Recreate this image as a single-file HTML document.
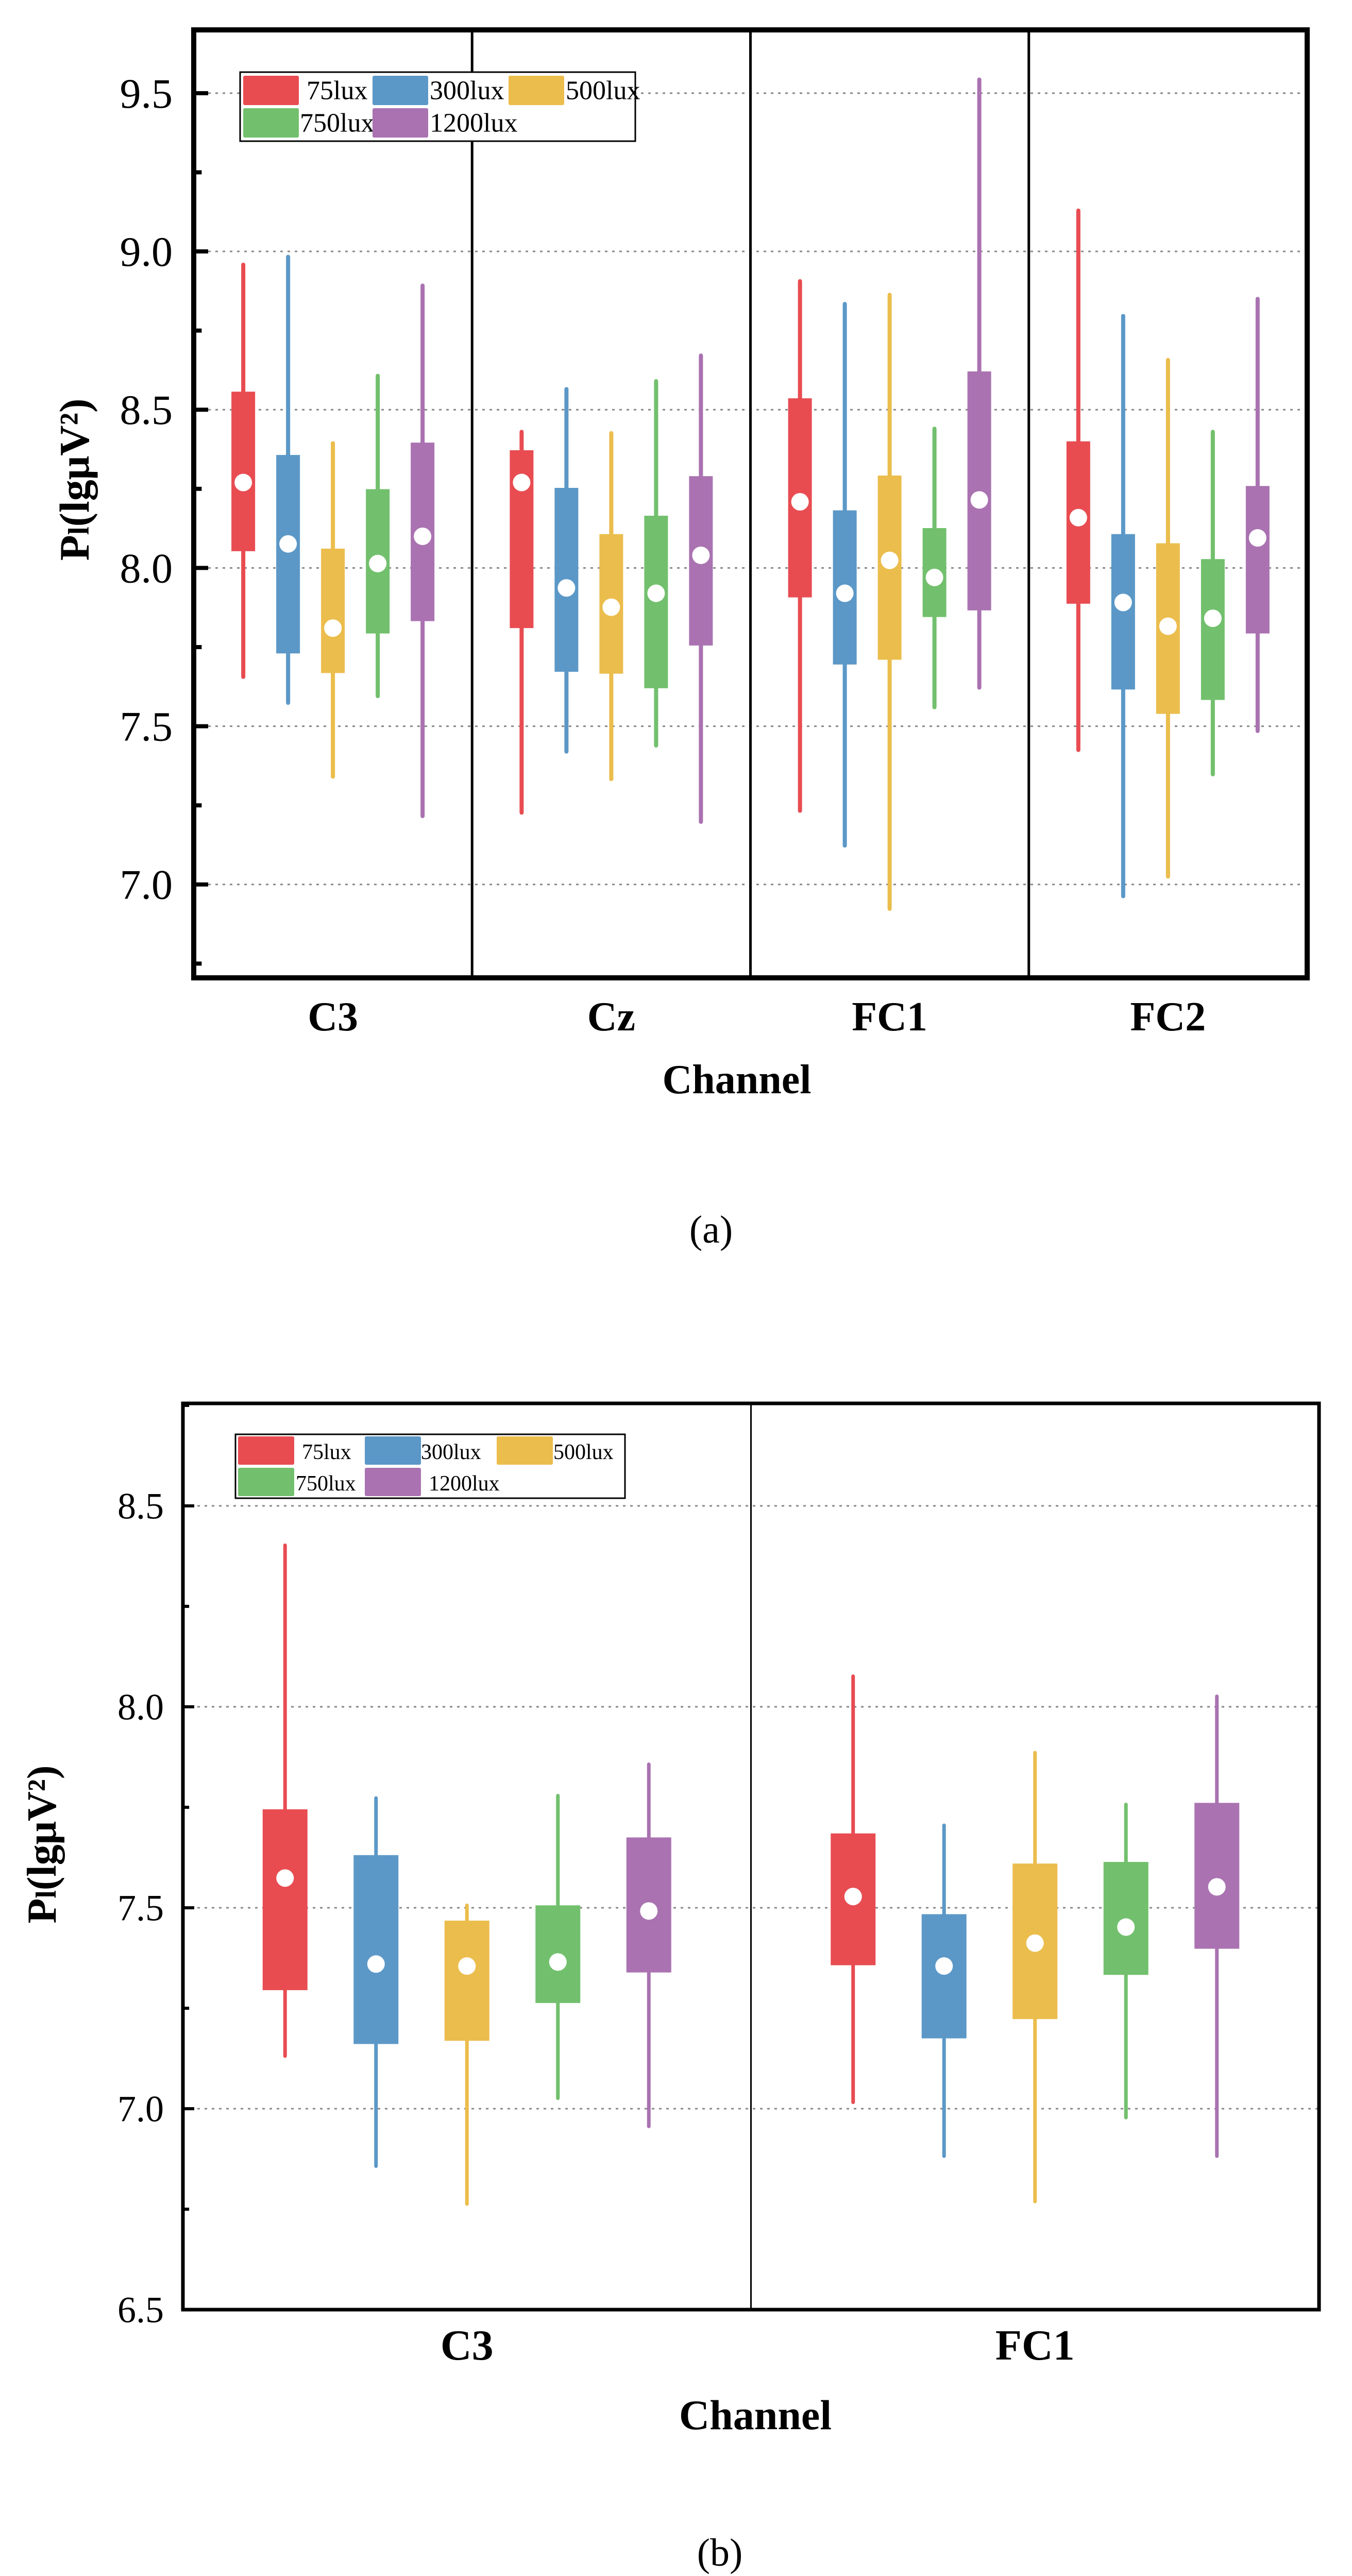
<!DOCTYPE html>
<html><head><meta charset="utf-8">
<style>
html,body{margin:0;padding:0;background:#fff;width:2624px;height:5040px;overflow:hidden;}
svg{display:block;font-family:"Liberation Serif",serif;}
</style></head>
<body>
<svg id="fig" width="2624" height="5040" viewBox="0 0 2624 5040" xmlns="http://www.w3.org/2000/svg"></svg>
<script>
// ---------- data ----------
const seriesNames = ["75lux","300lux","500lux","750lux","1200lux"];
const seriesColors = ["#E84C51","#5B98C7","#EBBD4C","#72C06D","#AA72B1"];

const catsA = ["C3","Cz","FC1","FC2"];
// per category, per series: [min, q1, mean, q3, max]
const minA  = [[7.656,7.574,7.341,7.595,7.216],[7.227,7.420,7.333,7.439,7.198],[7.233,7.123,6.923,7.560,7.622],[7.425,6.963,7.025,7.348,7.485]];
const q1A   = [[8.053,7.730,7.668,7.793,7.832],[7.810,7.672,7.666,7.620,7.755],[7.907,7.695,7.710,7.845,7.866],[7.887,7.616,7.539,7.583,7.793]];
const meanA = [[8.270,8.076,7.810,8.014,8.100],[8.270,7.937,7.876,7.920,8.040],[8.209,7.920,8.024,7.970,8.215],[8.159,7.891,7.816,7.841,8.095]];
const q3A   = [[8.557,8.357,8.061,8.249,8.396],[8.372,8.253,8.107,8.165,8.290],[8.536,8.182,8.292,8.126,8.621],[8.400,8.107,8.078,8.028,8.259]];
const maxA  = [[8.958,8.983,8.394,8.607,8.892],[8.430,8.565,8.426,8.590,8.671],[8.906,8.834,8.863,8.440,9.543],[9.129,8.796,8.657,8.430,8.850]];
const ticksA = ["7.0","7.5","8.0","8.5","9.0","9.5"];

const catsB = ["C3","FC1"];
const minB  = [[7.131,6.857,6.763,7.026,6.956],[7.016,6.882,6.769,6.978,6.882]];
const q1B   = [[7.295,7.161,7.169,7.263,7.339],[7.357,7.175,7.223,7.333,7.398]];
const meanB = [[7.574,7.360,7.355,7.365,7.492],[7.528,7.355,7.412,7.452,7.552]];
const q3B   = [[7.745,7.631,7.468,7.506,7.675],[7.685,7.484,7.610,7.614,7.761]];
const maxB  = [[8.402,7.773,7.506,7.779,7.857],[8.076,7.705,7.886,7.757,8.026]];
const ticksB = ["6.5","7.0","7.5","8.0","8.5"];

// ---------- drawing ----------
const NS="http://www.w3.org/2000/svg";
const svg=document.getElementById('fig');
function mk(tag,attrs,parent,text){
  const e=document.createElementNS(NS,tag);
  for(const k in attrs) e.setAttribute(k,attrs[k]);
  if(text!==undefined) e.textContent=text;
  (parent||svg).appendChild(e);
  return e;
}

function drawChart(cfg){
  const g=mk('g',{});
  
  
  const L=cfg.L,R=cfg.R,T=cfg.T,B=cfg.B;
  const y=v=>B-(v-cfg.ymin)/(cfg.ymax-cfg.ymin)*(B-T);
  const nc=cfg.cats.length, pw=(R-L)/nc;
  const x=(ci,si)=>L+pw*(ci+0.5)+(si-2)*cfg.step;
  cfg.ticks.forEach(t=>{
    const v=parseFloat(t), yy=y(v);
    const gl=mk('line',{x1:L,x2:R,y1:yy,y2:yy,stroke:'#888','stroke-width':3,'stroke-dasharray':'5 9'},g);
    
    
    const tk=mk('line',{x1:L,x2:L+cfg.tickLen,y1:yy,y2:yy,stroke:'#000','stroke-width':cfg.tickW},g);
    
    
    const tl=mk('text',{x:cfg.labelX,y:yy+cfg.tickFont*0.34,'text-anchor':'end','font-size':cfg.tickFont},g,t);
    
    
    const mv=v+0.25;
    if(mv<cfg.ymax){
      const mt=mk('line',{x1:L,x2:L+cfg.tickLen*0.55,y1:y(mv),y2:y(mv),stroke:'#000','stroke-width':cfg.tickW},g);
      
      
    }
    const mv2=v-0.25;
    if(mv2>cfg.ymin && t===cfg.ticks[0]){
      const mt2=mk('line',{x1:L,x2:L+cfg.tickLen*0.55,y1:y(mv2),y2:y(mv2),stroke:'#000','stroke-width':cfg.tickW},g);
      
      
    }
  });
  for(let i=1;i<nc;i++){
    const d=mk('line',{x1:L+pw*i,x2:L+pw*i,y1:T,y2:B,stroke:'#000','stroke-width':cfg.divW},g);
    
    
  }
  cfg.cats.forEach((c,ci)=>{
    seriesNames.forEach((s,si)=>{
      const cx=x(ci,si), col=seriesColors[si];
      const bg=mk('g',{},g);
      
      
      const w=mk('line',{x1:cx,x2:cx,y1:y(cfg.max[ci][si]),y2:y(cfg.min[ci][si]),stroke:col,'stroke-width':cfg.whW,'stroke-linecap':'round'},bg);
      
      
      const r=mk('rect',{x:cx-cfg.boxW/2,y:y(cfg.q3[ci][si]),width:cfg.boxW,height:y(cfg.q1[ci][si])-y(cfg.q3[ci][si]),fill:col},bg);
      
      
      const d=mk('circle',{cx:cx,cy:y(cfg.mean[ci][si]),r:cfg.dotR,fill:'#fff'},bg);
      
      
    });
    const cl=mk('text',{x:L+pw*(ci+0.5),y:cfg.catY,'text-anchor':'middle','font-size':cfg.catFont,'font-weight':'bold'},g,c);
    
    
  });
  const fr=mk('rect',{x:L,y:T,width:R-L,height:B-T,fill:'none',stroke:'#000','stroke-width':cfg.frameW},g);
  
  
  const lg=mk('g',{},g);
  
  
  const lb=mk('rect',{x:cfg.leg.x,y:cfg.leg.y,width:cfg.leg.w,height:cfg.leg.h,fill:'#fff',stroke:'#000','stroke-width':3},lg);
  
  
  seriesNames.forEach((s,si)=>{
    const row=si<3?0:1, col=si<3?si:si-3;
    const sx=cfg.leg.sx[col], sy=cfg.leg.rows[row];
    const e=mk('g',{},lg);
    
    
    const sw=mk('rect',{x:sx,y:sy,width:cfg.leg.sw,height:cfg.leg.sh,fill:seriesColors[si],rx:3},e);
    
    
    const tx=mk('text',{x:cfg.leg.tx[si],y:sy+cfg.leg.sh*0.8,'font-size':cfg.leg.font},e,s);
    
    
  });
  const yt=mk('text',{x:0,y:0,transform:`translate(${cfg.ytX},${cfg.ytY}) rotate(-90)`,'text-anchor':'middle','font-size':cfg.ytFont,'font-weight':'bold'},g);
  
  
  mk('tspan',{},yt,'P');
  mk('tspan',{'font-size':cfg.ytFont*0.7},yt,'l');
  mk('tspan',{},yt,'(lgμV²)');
  const xt=mk('text',{x:cfg.xtX,y:cfg.xtY,'text-anchor':'middle','font-size':cfg.xtFont,'font-weight':'bold'},g,'Channel');
  
  
  const cap=mk('text',{x:cfg.capX,y:cfg.capY,'text-anchor':'middle','font-size':cfg.capFont},g,cfg.caption);
  
  
}

drawChart({name:'chart-a',cats:catsA,min:minA,q1:q1A,mean:meanA,q3:q3A,max:maxA,ticks:ticksA,
  L:376,R:2537,T:58,B:1898,ymin:6.705,ymax:9.70,step:87,boxW:46,whW:8,dotR:17,
  tickLen:28,tickW:8,labelX:335,tickFont:82,divW:5,frameW:10,
  catY:2000,catFont:80,ytX:172,ytY:931,ytFont:82,xtX:1430,xtY:2122,xtFont:80,capX:1380,capY:2412,capFont:76,caption:'(a)',
  leg:{x:466,y:140,w:767,h:134,sx:[472,723,987],rows:[147,210],sw:108,sh:57,font:52,tx:[595,834,1098,582,834]}});

drawChart({name:'chart-b',cats:catsB,min:minB,q1:q1B,mean:meanB,q3:q3B,max:maxB,ticks:ticksB,
  L:355,R:2560,T:2724,B:4483,ymin:6.5,ymax:8.755,step:176.5,boxW:87,whW:7,dotR:17,
  tickLen:22,tickW:6,labelX:318,tickFont:72,divW:3,frameW:7,
  catY:4580,catFont:84,ytX:108,ytY:3580,ytFont:80,xtX:1466,xtY:4715,xtFont:82,capX:1397,capY:4980,capFont:76,caption:'(b)',
  leg:{x:457,y:2784,w:756,h:124,sx:[462,708,964],rows:[2788,2849],sw:109,sh:55,font:42,tx:[586,817,1074,574,832]}});
</script>
</body></html>
